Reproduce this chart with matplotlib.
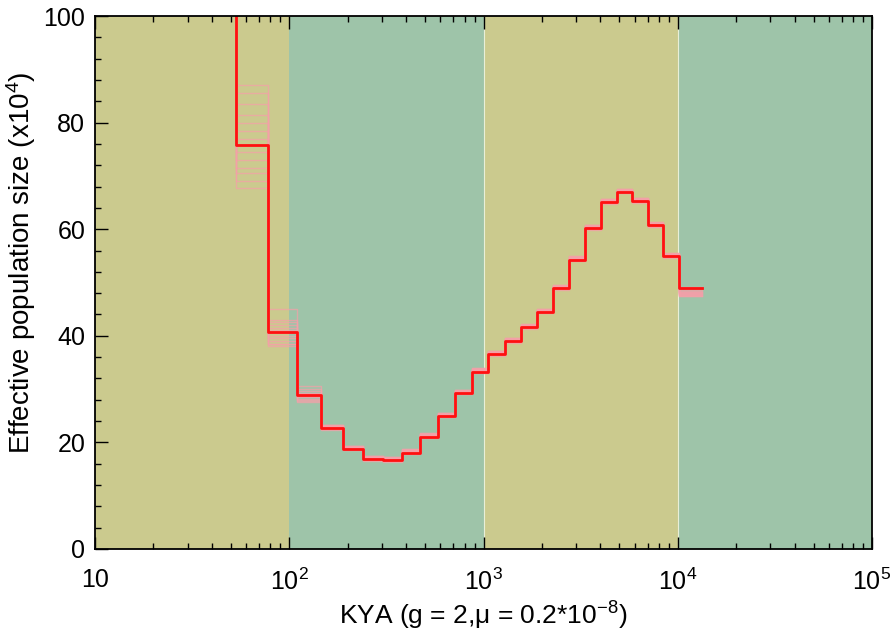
import matplotlib
matplotlib.use("Agg")
import matplotlib.pyplot as plt
from matplotlib.ticker import FixedLocator, LogLocator, MultipleLocator

plt.rcParams['font.family'] = ['Liberation Sans', 'DejaVu Sans']
plt.rcParams['mathtext.fontset'] = 'custom'
plt.rcParams['mathtext.rm'] = 'Liberation Sans'
plt.rcParams['mathtext.it'] = 'Liberation Sans:italic'

# границы интервалов времени (KYA) и значения Ne (x10^4)
time_kya = [40, 53.2, 77.7, 109.6, 145.7, 189.1, 239.7, 303.9, 380.6, 471.1,
            583.2, 713.5, 872.7, 1055, 1290, 1560, 1886, 2279, 2756, 3331,
            4026, 4868, 5814, 7027, 8398, 10150, 13330]
ne = [180, 75.75, 40.8, 28.9, 22.7, 18.8, 16.9, 16.7, 18.1, 21.1, 25.0, 29.3,
      33.3, 36.6, 39.0, 41.6, 44.5, 48.9, 54.3, 60.2, 65.1, 67.0, 65.3, 60.7,
      54.9, 48.9]

# бутстрэп: первые три интервала и сдвиг остальных
boot_seg1 = [87, 85.5, 83.5, 81.5, 80, 78.5, 77, 74.5, 73, 71.5, 70.5, 69, 67.7]
boot_seg2 = [45.1, 43, 42.5, 42, 41.5, 41, 40.5, 40, 39.5, 39, 38.5, 38, 38.5]
boot_seg3 = [30.6, 30, 29.7, 29.3, 29, 28.8, 28.5, 28.2, 28, 27.8, 27.6, 28.7, 29.1]
boot_shift = [0.6, 0.4, 0.2, -0.2, 0.5, 0.3, -0.3, 0.1, 0.4, -0.1, 0.2, 0.6, 0.3]

bands = [(10, 100), (100, 1000), (1000, 10000), (10000, 100000)]
band_colors = ['#cbca8e', '#9ec4a9', '#cbca8e', '#9ec4a9']

xticks = [10, 100, 1000, 10000, 100000]
xlabels = ['10', '$10^2$', '$10^3$', '$10^4$', '$10^5$']

fig = plt.figure(figsize=(8.93, 6.33), dpi=100)
ax = fig.add_axes([95 / 893, 1 - 549 / 633, 777 / 893, 533 / 633])

for (a, b), c in zip(bands, band_colors):
    ax.axvspan(a, b, color=c, lw=0, zorder=0)
for b in [1000, 10000]:
    ax.axvline(b, color='#e8efd8', lw=0.8, zorder=0.5)

for i in range(len(boot_seg1)):
    yb = [ne[0], boot_seg1[i], boot_seg2[i], boot_seg3[i]]
    if i < 12:
        yb += [v + boot_shift[i] for v in ne[4:-1]] + [ne[-1] - 0.4 - 0.1 * i]
    else:
        yb += [v + boot_shift[i] for v in ne[4:]]
    ax.step(time_kya, yb + [yb[-1]], where='post', color='#f5a0a8',
            lw=1.0, alpha=0.7, zorder=2)

ax.step(time_kya, ne + [ne[-1]], where='post', color='#ff1010', lw=2.0, zorder=3)

ax.set_xscale('log')
ax.set_xlim(10, 100000)
ax.set_ylim(0, 100)
ax.xaxis.set_major_locator(FixedLocator(xticks))
ax.set_xticklabels(xlabels)
ax.xaxis.set_minor_locator(LogLocator(base=10, subs=range(2, 10)))
ax.yaxis.set_major_locator(MultipleLocator(20))
ax.yaxis.set_minor_locator(MultipleLocator(4))

ax.tick_params(which='both', direction='in', top=True, right=False,
               labelsize=18, width=1.0)
ax.tick_params(which='major', length=9)
ax.tick_params(axis='x', which='major', pad=14)
ax.tick_params(axis='y', which='major', pad=7)
ax.tick_params(which='minor', length=4)
for s in ax.spines.values():
    s.set_linewidth(1.3)
    s.set_zorder(5)

ax.set_xlabel('KYA (g = 2,μ = 0.2*10$^{-8}$)', fontsize=19)
ax.xaxis.set_label_coords(0.5, -0.095)
ax.set_ylabel('Effective population size (x10$^4$)', fontsize=20)
ax.yaxis.set_label_coords(-0.074, 0.5376)

fig.savefig('out.png', dpi=100)
